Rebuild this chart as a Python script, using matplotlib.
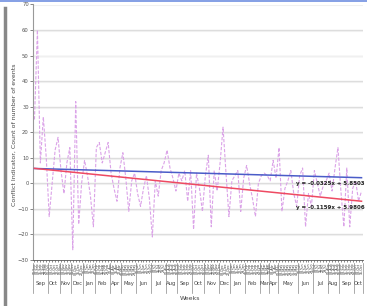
import matplotlib
matplotlib.use("Agg")
import matplotlib.pyplot as plt
from matplotlib.lines import Line2D
import numpy as np

# ---- data ----
months = ["Sep", "Oct", "Nov", "Dec", "Jan", "Feb", "Apr", "May", "Jun", "Jul", "Aug",
          "Sep", "Oct", "Nov", "Dec", "Jan", "Feb", "Mar", "Apr", "May", "Jun", "Jul",
          "Aug", "Sep", "Oct"]
weeks_per_month = [5, 4, 4, 4, 4, 5, 4, 5, 5, 5, 4, 5, 4, 5, 4, 5, 5, 3, 3, 7, 5, 5, 4, 5, 3]

conflict = [25, 60, 8, 26, 10, -13, 0, 13, 18, 5, -4, 8, 14, -26, 32, -16, 0, 9, 3, -5,
            -17, 14, 16, 8, 12, 16, 4, -2, -7, 6, 12, 2, -11, 1, 4, -4, -9, -2, 3, -6,
            -21, 1, -5, 5, 8, 13, 6, 2, -3, 4, 1, 5, -7, 5, -18, 4, -2, -11, 3, 11,
            -17, 5, -3, 8, 22, 4, -13, 1, 3, 5, -11, 2, 7, 0, -6, -13, 0, 3, 4, 3,
            1, 9, 2, 14, -11, -2, 1, 5, -4, -9, 3, 6, -17, -4, -9, 5, 0, -5, -1, 1,
            4, -3, 6, 14, -3, -17, 6, -17, -2, 1, -7, -3]

trend_blue = (-0.0325, 5.8503)
trend_red = (-0.1159, 5.9806)
eq_blue = "y = -0.0325x + 5.8503"
eq_red = "y = -0.1159x + 5.9806"

# ---- figure ----
W, H = 367, 306
fig = plt.figure(figsize=(W / 100, H / 100), dpi=100)
fig.patch.set_facecolor("white")

L, R, T, B = 33, 363, 4.5, 260
ax = fig.add_axes([L / W, 1 - B / H, (R - L) / W, (B - T) / H])

n = len(conflict)
x = np.arange(1, n + 1)

# grid
for v in range(-20, 80, 10):
    ax.axhline(v, color="#dcdcdc", lw=1.0, zorder=0)
    ax.axhline(v - 0.35, color="#f0f0f0", lw=0.8, zorder=0)

ax.plot(x, conflict, color="#dba3e8", lw=0.8, ls=(0, (3, 1.5)), zorder=2)
ax.plot(x, trend_blue[0] * x + trend_blue[1], color="#4a5cc8", lw=1.1, zorder=3)
ax.plot(x, trend_red[0] * x + trend_red[1], color="#ee4a62", lw=1.1, zorder=3)

ax.set_xlim(0.5, n + 0.5)
ax.set_ylim(-30, 70)
ax.set_yticks(range(-30, 80, 10))
ax.tick_params(axis="y", labelsize=3.8, colors="#555555", length=2, width=0.5, pad=1)

# tiny week labels
labels = []
for m, k in zip(months, weeks_per_month):
    for j in range(k):
        labels.append(f"{1 + 7 * j:02d}-{m}")
ax.set_xticks(x)
ax.set_xticklabels(labels, rotation=90, fontsize=2.3, color="#222222")
ax.tick_params(axis="x", length=1.5, width=0.4, pad=0.5, colors="#333333")

for s in ["top", "right"]:
    ax.spines[s].set_visible(False)
ax.spines["left"].set_color("#999999")
ax.spines["bottom"].set_color("#555555")
ax.spines["bottom"].set_linewidth(0.6)

# month groups
trans = ax.get_xaxis_transform()
start = 0.5
y_sep_top = -0.01
y_sep_bot = -0.13
for m, k in zip(months, weeks_per_month):
    end = start + k
    ax.text((start + end) / 2, -0.093, m, transform=trans, ha="center", va="center",
            fontsize=3.8, color="#444444")
    ax.add_line(Line2D([start, start], [y_sep_top, y_sep_bot], transform=trans,
                       color="#888888", lw=0.5, clip_on=False))
    start = end
ax.add_line(Line2D([start, start], [y_sep_top, y_sep_bot], transform=trans,
                   color="#888888", lw=0.5, clip_on=False))

# equations
fig.text(365 / W, 1 - 183 / H, eq_blue, ha="right", va="center", fontsize=4.0,
         color="#222222", fontweight="bold")
fig.text(365 / W, 1 - 208 / H, eq_red, ha="right", va="center", fontsize=4.0,
         color="#222222", fontweight="bold")

fig.text(190 / W, 1 - 298 / H, "Weeks", ha="center", va="center", fontsize=4.5,
         color="#444444")
fig.text(14 / W, 1 - 135 / H, "Conflict Indicator, Count of number of events",
         rotation=90, ha="center", va="center", fontsize=4.5, color="#444444")

# frame decorations
fig.add_artist(Line2D([4.5 / W, 4.5 / W], [0, 1 - 8 / H], transform=fig.transFigure,
                      color="#888888", lw=2.5))
fig.add_artist(Line2D([0, 1], [1 - 0.6 / H, 1 - 0.6 / H], transform=fig.transFigure,
                      color="#6f8fe0", lw=1.2))

fig.savefig("out.png", dpi=100, facecolor="white")
